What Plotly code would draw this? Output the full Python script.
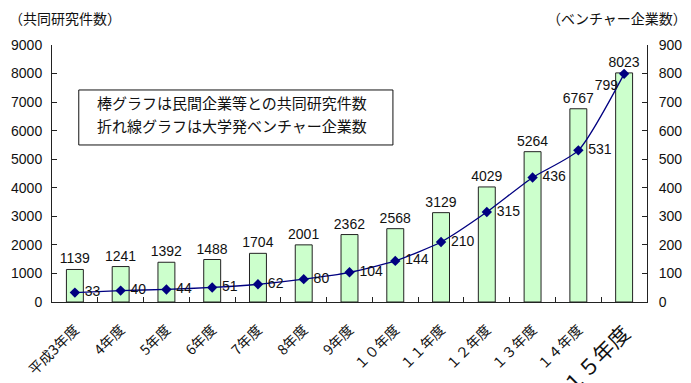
import plotly.graph_objects as go

# Fiscal years (Heisei 3 – 15)
years = ["平成3年度", "4年度", "5年度", "6年度", "7年度", "8年度", "9年度",
         "１０年度", "１１年度", "１２年度", "１３年度", "１４年度", "１５年度"]
# Joint research projects with private companies (bars, left axis)
joint_research = [1139, 1241, 1392, 1488, 1704, 2001, 2362, 2568, 3129, 4029, 5264, 6767, 8023]
# University-originated ventures (line, right axis)
ventures = [33, 40, 44, 51, 62, 80, 104, 144, 210, 315, 436, 531, 799]

left_ticks = list(range(0, 9001, 1000))
right_ticks = list(range(0, 901, 100))

num_font = dict(family="Liberation Sans, Arial, sans-serif", size=14, color="#111111")
jp_font = "Noto Sans CJK JP, sans-serif"

fig = go.Figure()

fig.add_trace(go.Bar(
    x=years, y=joint_research,
    marker=dict(color="#CCFFCC", line=dict(color="#222222", width=1)),
    width=0.37,
    text=[str(v) for v in joint_research],
    textposition="outside",
    constraintext="none",
    textfont=num_font,
    cliponaxis=False,
    xaxis="x", yaxis="y",
    showlegend=False,
))

text_pos = ["middle right"] * (len(ventures) - 1) + ["bottom left"]
line_text = [" " + str(v) for v in ventures[:-1]] + [str(ventures[-1])]
fig.add_trace(go.Scatter(
    x=years, y=ventures,
    mode="lines+markers+text",
    line=dict(color="#000080", width=1.3, shape="spline", smoothing=0.6),
    marker=dict(symbol="diamond", size=8, color="#000080"),
    text=line_text,
    textposition=text_pos,
    textfont=num_font,
    cliponaxis=False,
    xaxis="x2", yaxis="y2",
    showlegend=False,
))

common_x = dict(
    type="category", categoryorder="array", categoryarray=years,
    range=[-0.5, len(years) - 0.5],
    tickangle=-45, automargin=False,
    showgrid=False, zeroline=False,
)

fig.update_layout(
    width=691, height=383,
    margin=dict(l=52, r=44, t=45, b=81),
    paper_bgcolor="white", plot_bgcolor="white",
    xaxis=dict(
        **common_x,
        tickmode="array", tickvals=years[:-1], ticktext=years[:-1],
        tickfont=dict(family=jp_font, size=14, color="#111111"),
        ticks="inside", tickson="boundaries", ticklen=5, tickcolor="#222222",
        showline=True, linecolor="#222222", linewidth=1,
        ticklabelstandoff=13,
    ),
    # second category axis carries the enlarged label of the final year
    xaxis2=dict(
        **common_x,
        overlaying="x", anchor="y", side="bottom",
        tickmode="array", tickvals=[years[-1]], ticktext=[years[-1]],
        tickfont=dict(family=jp_font, size=21, color="#111111"),
        ticks="", showline=False,
        ticklabelstandoff=14,
    ),
    yaxis=dict(
        range=[0, 9000], tickvals=left_ticks, automargin=False,
        tickfont=num_font,
        ticks="inside", ticklen=5, tickcolor="#222222",
        showline=True, linecolor="#222222", linewidth=1,
        showgrid=False, zeroline=False,
        ticklabelstandoff=6,
    ),
    yaxis2=dict(
        range=[0, 900], tickvals=right_ticks, automargin=False,
        overlaying="y", side="right", anchor="x",
        tickfont=num_font,
        ticks="inside", ticklen=5, tickcolor="#222222",
        showline=True, linecolor="#222222", linewidth=1,
        showgrid=False, zeroline=False,
        ticklabelstandoff=8,
    ),
)

# Legend-style explanatory box
fig.add_shape(type="rect", xref="paper", yref="paper",
              x0=0.045, x1=0.573, y0=0.611, y1=0.825,
              line=dict(color="#111111", width=1), fillcolor="white")
fig.add_annotation(xref="paper", yref="paper", x=0.072, y=0.775,
                   xanchor="left", yanchor="middle", showarrow=False,
                   text="棒グラフは民間企業等との共同研究件数",
                   font=dict(family=jp_font, size=15, color="#111111"))
fig.add_annotation(xref="paper", yref="paper", x=0.072, y=0.685,
                   xanchor="left", yanchor="middle", showarrow=False,
                   text="折れ線グラフは大学発ベンチャー企業数",
                   font=dict(family=jp_font, size=15, color="#111111"))

# Axis captions
fig.add_annotation(xref="paper", yref="paper", x=-0.075, y=1.105,
                   xanchor="left", yanchor="middle", showarrow=False,
                   text="（共同研究件数）",
                   font=dict(family=jp_font, size=14, color="#111111"))
fig.add_annotation(xref="paper", yref="paper", x=1.07, y=1.105,
                   xanchor="right", yanchor="middle", showarrow=False,
                   text="（ベンチャー企業数）",
                   font=dict(family=jp_font, size=14, color="#111111"))

fig.write_html("out.html")
